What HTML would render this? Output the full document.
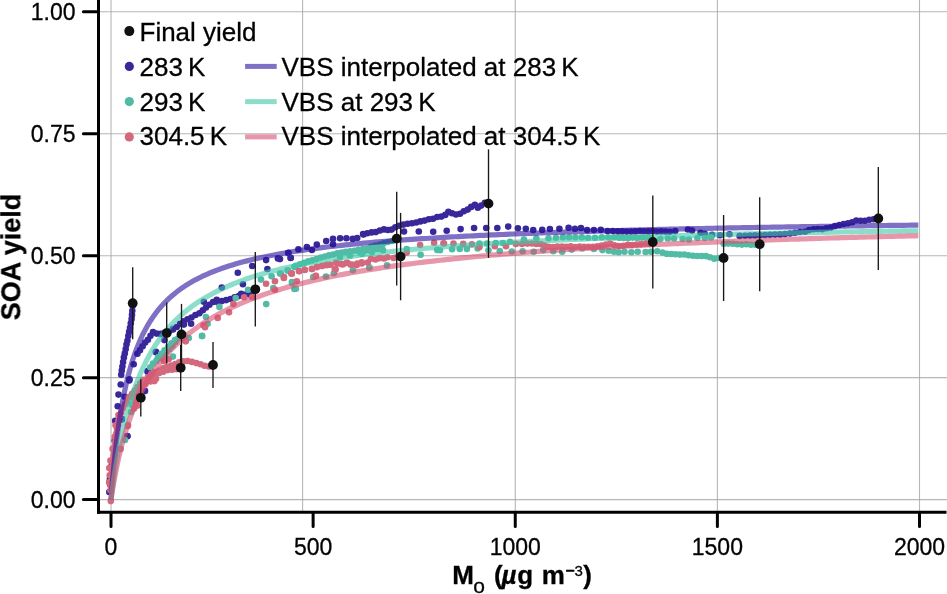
<!DOCTYPE html>
<html><head><meta charset="utf-8"><style>html,body{margin:0;padding:0;background:#fff;}svg{display:block;} text{-webkit-font-smoothing:antialiased;}</style></head>
<body><svg width="947" height="594" viewBox="0 0 947 594">
<rect width="947" height="594" fill="#fff"/>
<g opacity="0.999">
<line x1="111.0" y1="0" x2="111.0" y2="511" stroke="#a7a7a7" stroke-opacity="0.82" stroke-width="1.1"/>
<line x1="302.6" y1="0" x2="302.6" y2="511" stroke="#a7a7a7" stroke-opacity="0.82" stroke-width="1.1"/>
<line x1="515.3" y1="0" x2="515.3" y2="511" stroke="#a7a7a7" stroke-opacity="0.82" stroke-width="1.1"/>
<line x1="717.4" y1="0" x2="717.4" y2="511" stroke="#a7a7a7" stroke-opacity="0.82" stroke-width="1.1"/>
<line x1="919.5" y1="0" x2="919.5" y2="511" stroke="#a7a7a7" stroke-opacity="0.82" stroke-width="1.1"/>
<line x1="99" y1="499.60" x2="947" y2="499.60" stroke="#a7a7a7" stroke-opacity="0.82" stroke-width="1.1"/>
<line x1="99" y1="377.65" x2="947" y2="377.65" stroke="#a7a7a7" stroke-opacity="0.82" stroke-width="1.1"/>
<line x1="99" y1="255.70" x2="947" y2="255.70" stroke="#a7a7a7" stroke-opacity="0.82" stroke-width="1.1"/>
<line x1="99" y1="133.75" x2="947" y2="133.75" stroke="#a7a7a7" stroke-opacity="0.82" stroke-width="1.1"/>
<line x1="99" y1="11.80" x2="947" y2="11.80" stroke="#a7a7a7" stroke-opacity="0.82" stroke-width="1.1"/>
<line x1="98.5" y1="0" x2="98.5" y2="513.7" stroke="#000" stroke-width="3"/>
<line x1="97" y1="512.2" x2="946.5" y2="512.2" stroke="#000" stroke-width="3"/>
<line x1="83.4" y1="499.60" x2="98" y2="499.60" stroke="#000" stroke-width="3" stroke-linecap="round"/>
<text x="75.5" y="507.80" text-anchor="end" font-size="23" font-family="Liberation Sans, sans-serif" stroke="#000" stroke-width="0.3">0.00</text>
<line x1="83.4" y1="377.65" x2="98" y2="377.65" stroke="#000" stroke-width="3" stroke-linecap="round"/>
<text x="75.5" y="385.85" text-anchor="end" font-size="23" font-family="Liberation Sans, sans-serif" stroke="#000" stroke-width="0.3">0.25</text>
<line x1="83.4" y1="255.70" x2="98" y2="255.70" stroke="#000" stroke-width="3" stroke-linecap="round"/>
<text x="75.5" y="263.90" text-anchor="end" font-size="23" font-family="Liberation Sans, sans-serif" stroke="#000" stroke-width="0.3">0.50</text>
<line x1="83.4" y1="133.75" x2="98" y2="133.75" stroke="#000" stroke-width="3" stroke-linecap="round"/>
<text x="75.5" y="141.95" text-anchor="end" font-size="23" font-family="Liberation Sans, sans-serif" stroke="#000" stroke-width="0.3">0.75</text>
<line x1="83.4" y1="11.80" x2="98" y2="11.80" stroke="#000" stroke-width="3" stroke-linecap="round"/>
<text x="75.5" y="20.00" text-anchor="end" font-size="23" font-family="Liberation Sans, sans-serif" stroke="#000" stroke-width="0.3">1.00</text>
<line x1="111.00" y1="513" x2="111.00" y2="526.6" stroke="#000" stroke-width="3" stroke-linecap="round"/>
<text x="111.00" y="554.7" text-anchor="middle" font-size="23" font-family="Liberation Sans, sans-serif" stroke="#000" stroke-width="0.3">0</text>
<line x1="313.12" y1="513" x2="313.12" y2="526.6" stroke="#000" stroke-width="3" stroke-linecap="round"/>
<text x="313.12" y="554.7" text-anchor="middle" font-size="23" font-family="Liberation Sans, sans-serif" stroke="#000" stroke-width="0.3">500</text>
<line x1="515.25" y1="513" x2="515.25" y2="526.6" stroke="#000" stroke-width="3" stroke-linecap="round"/>
<text x="515.25" y="554.7" text-anchor="middle" font-size="23" font-family="Liberation Sans, sans-serif" stroke="#000" stroke-width="0.3">1000</text>
<line x1="717.38" y1="513" x2="717.38" y2="526.6" stroke="#000" stroke-width="3" stroke-linecap="round"/>
<text x="717.38" y="554.7" text-anchor="middle" font-size="23" font-family="Liberation Sans, sans-serif" stroke="#000" stroke-width="0.3">1500</text>
<line x1="919.50" y1="513" x2="919.50" y2="526.6" stroke="#000" stroke-width="3" stroke-linecap="round"/>
<text x="919.50" y="554.7" text-anchor="middle" font-size="23" font-family="Liberation Sans, sans-serif" stroke="#000" stroke-width="0.3">2000</text>
<text transform="translate(20.3,257) rotate(-90)" text-anchor="middle" font-size="27" font-weight="bold" font-family="Liberation Sans, sans-serif" stroke="#000" stroke-width="0.3">SOA yield</text>
<text x="452.3" y="584" font-size="26" font-weight="bold" font-style="normal" font-family="Liberation Sans, sans-serif" stroke="#000" stroke-width="0.3">M</text>
<text x="473.3" y="592.8" font-size="21" font-weight="normal" font-style="normal" font-family="Liberation Sans, sans-serif" stroke="#000" stroke-width="0.3">o</text>
<text x="494" y="584" font-size="26" font-weight="bold" font-style="normal" font-family="Liberation Sans, sans-serif" stroke="#000" stroke-width="0.3">(</text>
<text x="501.5" y="584" font-size="26" font-weight="bold" font-style="italic" font-family="Liberation Sans, sans-serif" stroke="#000" stroke-width="0.3">µ</text>
<text x="517.3" y="584" font-size="26" font-weight="bold" font-style="normal" font-family="Liberation Sans, sans-serif" stroke="#000" stroke-width="0.3">g</text>
<text x="541.8" y="584" font-size="26" font-weight="bold" font-style="normal" font-family="Liberation Sans, sans-serif" stroke="#000" stroke-width="0.3">m</text>
<text x="565.3" y="575.6" font-size="16" font-weight="bold" font-style="normal" font-family="Liberation Sans, sans-serif" stroke="#000" stroke-width="0.3">−</text>
<text x="574.6" y="576" font-size="15" font-weight="normal" font-style="normal" font-family="Liberation Sans, sans-serif" stroke="#000" stroke-width="0.3">3</text>
<text x="583.3" y="584" font-size="26" font-weight="bold" font-style="normal" font-family="Liberation Sans, sans-serif" stroke="#000" stroke-width="0.3">)</text>
<circle cx="121.2" cy="374.7" r="3.3" fill="#39289a"/><circle cx="121.8" cy="370.5" r="3.3" fill="#39289a"/><circle cx="122.4" cy="366.5" r="3.3" fill="#39289a"/><circle cx="123.1" cy="362.1" r="3.3" fill="#39289a"/><circle cx="123.9" cy="357.4" r="3.3" fill="#39289a"/><circle cx="124.8" cy="353.4" r="3.3" fill="#39289a"/><circle cx="125.7" cy="349.1" r="3.3" fill="#39289a"/><circle cx="126.5" cy="344.6" r="3.3" fill="#39289a"/><circle cx="127.4" cy="340.7" r="3.3" fill="#39289a"/><circle cx="128.3" cy="336.0" r="3.3" fill="#39289a"/><circle cx="129.1" cy="331.9" r="3.3" fill="#39289a"/><circle cx="130.0" cy="327.7" r="3.3" fill="#39289a"/><circle cx="130.8" cy="323.3" r="3.3" fill="#39289a"/><circle cx="131.6" cy="319.1" r="3.3" fill="#39289a"/><circle cx="132.0" cy="314.9" r="3.3" fill="#39289a"/><circle cx="132.3" cy="310.7" r="3.3" fill="#39289a"/><circle cx="132.7" cy="305.8" r="3.3" fill="#39289a"/><circle cx="137.4" cy="353.8" r="3.3" fill="#39289a"/><circle cx="140.0" cy="350.2" r="3.3" fill="#39289a"/><circle cx="142.6" cy="346.3" r="3.3" fill="#39289a"/><circle cx="145.2" cy="342.6" r="3.3" fill="#39289a"/><circle cx="147.9" cy="339.7" r="3.3" fill="#39289a"/><circle cx="150.5" cy="335.7" r="3.3" fill="#39289a"/><circle cx="153.0" cy="332.1" r="3.3" fill="#39289a"/><circle cx="156.6" cy="333.6" r="3.3" fill="#39289a"/><circle cx="160.6" cy="333.9" r="3.3" fill="#39289a"/><circle cx="164.8" cy="332.6" r="3.3" fill="#39289a"/><circle cx="169.0" cy="331.2" r="3.3" fill="#39289a"/><circle cx="173.0" cy="328.9" r="3.3" fill="#39289a"/><circle cx="176.7" cy="327.0" r="3.3" fill="#39289a"/><circle cx="180.1" cy="323.9" r="3.3" fill="#39289a"/><circle cx="183.7" cy="321.2" r="3.3" fill="#39289a"/><circle cx="187.5" cy="319.2" r="3.3" fill="#39289a"/><circle cx="191.5" cy="317.5" r="3.3" fill="#39289a"/><circle cx="195.4" cy="315.0" r="3.3" fill="#39289a"/><circle cx="199.4" cy="313.2" r="3.3" fill="#39289a"/><circle cx="202.8" cy="310.3" r="3.3" fill="#39289a"/><circle cx="206.0" cy="307.5" r="3.3" fill="#39289a"/><circle cx="209.4" cy="304.8" r="3.3" fill="#39289a"/><circle cx="213.1" cy="302.0" r="3.3" fill="#39289a"/><circle cx="217.5" cy="301.9" r="3.3" fill="#39289a"/><circle cx="221.9" cy="301.1" r="3.3" fill="#39289a"/><circle cx="226.2" cy="300.1" r="3.3" fill="#39289a"/><circle cx="230.5" cy="299.0" r="3.3" fill="#39289a"/><circle cx="234.6" cy="297.2" r="3.3" fill="#39289a"/><circle cx="238.8" cy="296.1" r="3.3" fill="#39289a"/><circle cx="243.2" cy="295.5" r="3.3" fill="#39289a"/><circle cx="247.4" cy="293.4" r="3.3" fill="#39289a"/><circle cx="251.5" cy="292.3" r="3.3" fill="#39289a"/><circle cx="363.1" cy="234.1" r="3.3" fill="#39289a"/><circle cx="367.3" cy="233.3" r="3.3" fill="#39289a"/><circle cx="371.6" cy="232.4" r="3.3" fill="#39289a"/><circle cx="375.8" cy="232.1" r="3.3" fill="#39289a"/><circle cx="379.9" cy="230.5" r="3.3" fill="#39289a"/><circle cx="384.0" cy="229.4" r="3.3" fill="#39289a"/><circle cx="387.9" cy="230.0" r="3.3" fill="#39289a"/><circle cx="391.6" cy="229.6" r="3.3" fill="#39289a"/><circle cx="395.3" cy="227.2" r="3.3" fill="#39289a"/><circle cx="399.3" cy="225.8" r="3.3" fill="#39289a"/><circle cx="403.5" cy="224.6" r="3.3" fill="#39289a"/><circle cx="407.7" cy="223.7" r="3.3" fill="#39289a"/><circle cx="412.0" cy="223.3" r="3.3" fill="#39289a"/><circle cx="416.2" cy="222.5" r="3.3" fill="#39289a"/><circle cx="420.4" cy="221.4" r="3.3" fill="#39289a"/><circle cx="424.6" cy="220.6" r="3.3" fill="#39289a"/><circle cx="428.8" cy="219.3" r="3.3" fill="#39289a"/><circle cx="433.0" cy="218.8" r="3.3" fill="#39289a"/><circle cx="437.2" cy="217.0" r="3.3" fill="#39289a"/><circle cx="441.4" cy="216.6" r="3.3" fill="#39289a"/><circle cx="445.3" cy="214.9" r="3.3" fill="#39289a"/><circle cx="448.4" cy="211.9" r="3.3" fill="#39289a"/><circle cx="452.0" cy="213.3" r="3.3" fill="#39289a"/><circle cx="456.0" cy="214.5" r="3.3" fill="#39289a"/><circle cx="460.0" cy="213.7" r="3.3" fill="#39289a"/><circle cx="463.8" cy="211.2" r="3.3" fill="#39289a"/><circle cx="467.7" cy="209.6" r="3.3" fill="#39289a"/><circle cx="471.2" cy="206.9" r="3.3" fill="#39289a"/><circle cx="474.9" cy="204.8" r="3.3" fill="#39289a"/><circle cx="477.8" cy="207.8" r="3.3" fill="#39289a"/><circle cx="481.2" cy="205.6" r="3.3" fill="#39289a"/><circle cx="484.9" cy="202.8" r="3.3" fill="#39289a"/><circle cx="618.2" cy="231.3" r="3.3" fill="#39289a"/><circle cx="622.5" cy="231.4" r="3.3" fill="#39289a"/><circle cx="626.8" cy="231.6" r="3.3" fill="#39289a"/><circle cx="631.1" cy="231.6" r="3.3" fill="#39289a"/><circle cx="635.4" cy="231.4" r="3.3" fill="#39289a"/><circle cx="639.7" cy="231.0" r="3.3" fill="#39289a"/><circle cx="644.1" cy="231.2" r="3.3" fill="#39289a"/><circle cx="648.4" cy="231.4" r="3.3" fill="#39289a"/><circle cx="652.7" cy="231.0" r="3.3" fill="#39289a"/><circle cx="657.0" cy="231.6" r="3.3" fill="#39289a"/><circle cx="661.3" cy="231.4" r="3.3" fill="#39289a"/><circle cx="665.6" cy="231.6" r="3.3" fill="#39289a"/><circle cx="669.9" cy="231.7" r="3.3" fill="#39289a"/><circle cx="805.0" cy="231.7" r="3.3" fill="#39289a"/><circle cx="809.1" cy="230.1" r="3.3" fill="#39289a"/><circle cx="813.5" cy="229.3" r="3.3" fill="#39289a"/><circle cx="817.8" cy="229.0" r="3.3" fill="#39289a"/><circle cx="822.2" cy="229.3" r="3.3" fill="#39289a"/><circle cx="826.5" cy="228.2" r="3.3" fill="#39289a"/><circle cx="830.9" cy="227.6" r="3.3" fill="#39289a"/><circle cx="835.0" cy="226.1" r="3.3" fill="#39289a"/><circle cx="839.3" cy="225.0" r="3.3" fill="#39289a"/><circle cx="843.6" cy="224.0" r="3.3" fill="#39289a"/><circle cx="848.0" cy="223.2" r="3.3" fill="#39289a"/><circle cx="852.2" cy="222.3" r="3.3" fill="#39289a"/><circle cx="856.3" cy="220.5" r="3.3" fill="#39289a"/><circle cx="860.6" cy="220.8" r="3.3" fill="#39289a"/><circle cx="864.9" cy="220.7" r="3.3" fill="#39289a"/><circle cx="869.3" cy="219.8" r="3.3" fill="#39289a"/><circle cx="873.6" cy="219.3" r="3.3" fill="#39289a"/>
<circle cx="109.3" cy="492" r="3.3" fill="#39289a"/><circle cx="109.9" cy="479" r="3.3" fill="#39289a"/><circle cx="111.8" cy="464.7" r="3.3" fill="#39289a"/><circle cx="114.3" cy="454.8" r="3.3" fill="#39289a"/><circle cx="114.7" cy="440.5" r="3.3" fill="#39289a"/><circle cx="115.2" cy="420.9" r="3.3" fill="#39289a"/><circle cx="117.7" cy="406.3" r="3.3" fill="#39289a"/><circle cx="118.5" cy="394.6" r="3.3" fill="#39289a"/><circle cx="120.7" cy="384.5" r="3.3" fill="#39289a"/><circle cx="121.7" cy="418.9" r="3.3" fill="#39289a"/><circle cx="127.3" cy="436.1" r="3.3" fill="#39289a"/><circle cx="129.3" cy="380.5" r="3.3" fill="#39289a"/><circle cx="112" cy="470" r="3.3" fill="#39289a"/><circle cx="110.5" cy="485" r="3.3" fill="#39289a"/><circle cx="121.9" cy="419.4" r="3.3" fill="#39289a"/><circle cx="127.4" cy="436.3" r="3.3" fill="#39289a"/><circle cx="124.8" cy="396.7" r="3.3" fill="#39289a"/><circle cx="129.5" cy="379.2" r="3.3" fill="#39289a"/><circle cx="133.7" cy="364.2" r="3.3" fill="#39289a"/><circle cx="237.8" cy="272.8" r="3.3" fill="#39289a"/><circle cx="252.2" cy="266" r="3.3" fill="#39289a"/><circle cx="266.1" cy="260.1" r="3.3" fill="#39289a"/><circle cx="277.9" cy="258.4" r="3.3" fill="#39289a"/><circle cx="288.1" cy="253" r="3.3" fill="#39289a"/><circle cx="290.6" cy="258" r="3.3" fill="#39289a"/><circle cx="267.4" cy="269" r="3.3" fill="#39289a"/><circle cx="242.9" cy="284.2" r="3.3" fill="#39289a"/><circle cx="221.8" cy="287.6" r="3.3" fill="#39289a"/><circle cx="216.7" cy="299.8" r="3.3" fill="#39289a"/><circle cx="241.2" cy="293.8" r="3.3" fill="#39289a"/><circle cx="248.7" cy="294.3" r="3.3" fill="#39289a"/><circle cx="280" cy="259.1" r="3.3" fill="#39289a"/><circle cx="288.5" cy="252.8" r="3.3" fill="#39289a"/><circle cx="290.8" cy="257.8" r="3.3" fill="#39289a"/><circle cx="298.4" cy="249.4" r="3.3" fill="#39289a"/><circle cx="306.9" cy="247" r="3.3" fill="#39289a"/><circle cx="311.9" cy="250" r="3.3" fill="#39289a"/><circle cx="316.8" cy="244.6" r="3.3" fill="#39289a"/><circle cx="326.2" cy="241" r="3.3" fill="#39289a"/><circle cx="333" cy="238.9" r="3.3" fill="#39289a"/><circle cx="333" cy="244.3" r="3.3" fill="#39289a"/><circle cx="340.1" cy="238.3" r="3.3" fill="#39289a"/><circle cx="346.4" cy="238.3" r="3.3" fill="#39289a"/><circle cx="352.7" cy="238.9" r="3.3" fill="#39289a"/><circle cx="357.2" cy="238" r="3.3" fill="#39289a"/><circle cx="363.5" cy="234.4" r="3.3" fill="#39289a"/><circle cx="164.4" cy="340.1" r="3.3" fill="#39289a"/><circle cx="172.9" cy="329.5" r="3.3" fill="#39289a"/><circle cx="148" cy="370.9" r="3.3" fill="#39289a"/><circle cx="155.9" cy="351.8" r="3.3" fill="#39289a"/><circle cx="156.1" cy="352.2" r="3.3" fill="#39289a"/><circle cx="191.1" cy="323.8" r="3.3" fill="#39289a"/><circle cx="183.9" cy="324.6" r="3.3" fill="#39289a"/><circle cx="203.8" cy="301.8" r="3.3" fill="#39289a"/><circle cx="147.6" cy="371.8" r="3.3" fill="#39289a"/><circle cx="145" cy="390.9" r="3.3" fill="#39289a"/><circle cx="404" cy="231.5" r="3.3" fill="#39289a"/><circle cx="418.8" cy="231.5" r="3.3" fill="#39289a"/><circle cx="433.2" cy="231.7" r="3.3" fill="#39289a"/><circle cx="446.7" cy="230.7" r="3.3" fill="#39289a"/><circle cx="460.6" cy="229.1" r="3.3" fill="#39289a"/><circle cx="474.1" cy="228" r="3.3" fill="#39289a"/><circle cx="486.2" cy="228" r="3.3" fill="#39289a"/><circle cx="497.3" cy="228" r="3.3" fill="#39289a"/><circle cx="508.2" cy="226.6" r="3.3" fill="#39289a"/><circle cx="517.9" cy="228.2" r="3.3" fill="#39289a"/><circle cx="525.8" cy="228.8" r="3.3" fill="#39289a"/><circle cx="533.2" cy="230.1" r="3.3" fill="#39289a"/><circle cx="542.2" cy="229.9" r="3.3" fill="#39289a"/><circle cx="549.9" cy="229" r="3.3" fill="#39289a"/><circle cx="559.4" cy="228.8" r="3.3" fill="#39289a"/><circle cx="568.6" cy="227.7" r="3.3" fill="#39289a"/><circle cx="574.9" cy="228.8" r="3.3" fill="#39289a"/><circle cx="581" cy="228" r="3.3" fill="#39289a"/><circle cx="587.1" cy="230.1" r="3.3" fill="#39289a"/><circle cx="593.9" cy="230.1" r="3.3" fill="#39289a"/><circle cx="600.8" cy="229.9" r="3.3" fill="#39289a"/><circle cx="607.6" cy="231.1" r="3.3" fill="#39289a"/><circle cx="612.9" cy="231.1" r="3.3" fill="#39289a"/><circle cx="618.2" cy="231.6" r="3.3" fill="#39289a"/><circle cx="675.2" cy="231.1" r="3.3" fill="#39289a"/><circle cx="687.9" cy="229.5" r="3.3" fill="#39289a"/><circle cx="692.1" cy="230.6" r="3.3" fill="#39289a"/><circle cx="700.5" cy="232.7" r="3.3" fill="#39289a"/><circle cx="704.8" cy="233.8" r="3.3" fill="#39289a"/><circle cx="712.1" cy="234.8" r="3.3" fill="#39289a"/><circle cx="720" cy="235.3" r="3.3" fill="#39289a"/><circle cx="729.5" cy="234.3" r="3.3" fill="#39289a"/><circle cx="739.6" cy="235.9" r="3.3" fill="#39289a"/><circle cx="745" cy="235.8" r="3.3" fill="#39289a"/><circle cx="750" cy="235.6" r="3.3" fill="#39289a"/><circle cx="755" cy="235.4" r="3.3" fill="#39289a"/><circle cx="760" cy="235.2" r="3.3" fill="#39289a"/><circle cx="765" cy="235" r="3.3" fill="#39289a"/><circle cx="770" cy="234.8" r="3.3" fill="#39289a"/><circle cx="775" cy="234.6" r="3.3" fill="#39289a"/><circle cx="780" cy="234.4" r="3.3" fill="#39289a"/><circle cx="785" cy="234" r="3.3" fill="#39289a"/><circle cx="790" cy="233.5" r="3.3" fill="#39289a"/><circle cx="795" cy="232.8" r="3.3" fill="#39289a"/><circle cx="800" cy="232" r="3.3" fill="#39289a"/>
<circle cx="158.0" cy="357.4" r="3.3" fill="#52bba6"/><circle cx="161.2" cy="353.7" r="3.3" fill="#52bba6"/><circle cx="164.6" cy="350.2" r="3.3" fill="#52bba6"/><circle cx="168.1" cy="346.9" r="3.3" fill="#52bba6"/><circle cx="171.5" cy="343.2" r="3.3" fill="#52bba6"/><circle cx="175.0" cy="340.0" r="3.3" fill="#52bba6"/><circle cx="150.3" cy="367.3" r="3.3" fill="#52bba6"/><circle cx="153.0" cy="363.6" r="3.3" fill="#52bba6"/><circle cx="156.4" cy="360.9" r="3.3" fill="#52bba6"/><circle cx="159.9" cy="358.3" r="3.3" fill="#52bba6"/><circle cx="163.2" cy="355.2" r="3.3" fill="#52bba6"/><circle cx="166.3" cy="352.0" r="3.3" fill="#52bba6"/><circle cx="169.4" cy="348.9" r="3.3" fill="#52bba6"/><circle cx="172.5" cy="345.7" r="3.3" fill="#52bba6"/><circle cx="175.4" cy="341.9" r="3.3" fill="#52bba6"/><circle cx="178.0" cy="338.5" r="3.3" fill="#52bba6"/><circle cx="296.0" cy="265.9" r="3.3" fill="#52bba6"/><circle cx="300.0" cy="264.3" r="3.3" fill="#52bba6"/><circle cx="304.1" cy="262.9" r="3.3" fill="#52bba6"/><circle cx="308.2" cy="261.4" r="3.3" fill="#52bba6"/><circle cx="312.3" cy="260.4" r="3.3" fill="#52bba6"/><circle cx="316.5" cy="259.1" r="3.3" fill="#52bba6"/><circle cx="320.6" cy="257.5" r="3.3" fill="#52bba6"/><circle cx="324.7" cy="256.5" r="3.3" fill="#52bba6"/><circle cx="328.9" cy="255.4" r="3.3" fill="#52bba6"/><circle cx="333.1" cy="254.6" r="3.3" fill="#52bba6"/><circle cx="337.3" cy="253.2" r="3.3" fill="#52bba6"/><circle cx="341.6" cy="252.5" r="3.3" fill="#52bba6"/><circle cx="345.8" cy="251.9" r="3.3" fill="#52bba6"/><circle cx="350.1" cy="251.2" r="3.3" fill="#52bba6"/><circle cx="354.4" cy="250.7" r="3.3" fill="#52bba6"/><circle cx="358.6" cy="249.8" r="3.3" fill="#52bba6"/><circle cx="362.9" cy="249.1" r="3.3" fill="#52bba6"/><circle cx="367.1" cy="248.7" r="3.3" fill="#52bba6"/><circle cx="371.3" cy="246.9" r="3.3" fill="#52bba6"/><circle cx="375.4" cy="245.6" r="3.3" fill="#52bba6"/><circle cx="379.6" cy="244.5" r="3.3" fill="#52bba6"/><circle cx="383.7" cy="243.3" r="3.3" fill="#52bba6"/><circle cx="387.8" cy="242.0" r="3.3" fill="#52bba6"/><circle cx="392.0" cy="241.0" r="3.3" fill="#52bba6"/><circle cx="360.0" cy="252.3" r="3.3" fill="#52bba6"/><circle cx="364.4" cy="250.9" r="3.3" fill="#52bba6"/><circle cx="368.8" cy="250.2" r="3.3" fill="#52bba6"/><circle cx="373.2" cy="249.6" r="3.3" fill="#52bba6"/><circle cx="377.6" cy="249.0" r="3.3" fill="#52bba6"/><circle cx="382.0" cy="248.3" r="3.3" fill="#52bba6"/><circle cx="619.3" cy="237.6" r="3.3" fill="#52bba6"/><circle cx="623.8" cy="237.9" r="3.3" fill="#52bba6"/><circle cx="628.3" cy="238.1" r="3.3" fill="#52bba6"/><circle cx="632.8" cy="237.6" r="3.3" fill="#52bba6"/><circle cx="637.4" cy="237.9" r="3.3" fill="#52bba6"/><circle cx="641.9" cy="237.6" r="3.3" fill="#52bba6"/><circle cx="646.4" cy="237.9" r="3.3" fill="#52bba6"/><circle cx="650.9" cy="238.0" r="3.3" fill="#52bba6"/><circle cx="723.7" cy="243.8" r="3.3" fill="#52bba6"/><circle cx="728.2" cy="243.6" r="3.3" fill="#52bba6"/><circle cx="732.8" cy="243.8" r="3.3" fill="#52bba6"/><circle cx="737.3" cy="244.2" r="3.3" fill="#52bba6"/><circle cx="741.8" cy="244.6" r="3.3" fill="#52bba6"/><circle cx="746.3" cy="244.3" r="3.3" fill="#52bba6"/><circle cx="750.9" cy="244.8" r="3.3" fill="#52bba6"/><circle cx="755.4" cy="244.7" r="3.3" fill="#52bba6"/><circle cx="662.5" cy="252.6" r="3.3" fill="#52bba6"/><circle cx="666.8" cy="253.8" r="3.3" fill="#52bba6"/><circle cx="671.2" cy="254.0" r="3.3" fill="#52bba6"/><circle cx="675.5" cy="254.3" r="3.3" fill="#52bba6"/><circle cx="679.9" cy="254.6" r="3.3" fill="#52bba6"/><circle cx="684.3" cy="254.5" r="3.3" fill="#52bba6"/><circle cx="688.6" cy="255.3" r="3.3" fill="#52bba6"/><circle cx="693.0" cy="255.7" r="3.3" fill="#52bba6"/><circle cx="697.3" cy="256.0" r="3.3" fill="#52bba6"/><circle cx="701.7" cy="256.0" r="3.3" fill="#52bba6"/><circle cx="705.9" cy="256.1" r="3.3" fill="#52bba6"/><circle cx="710.0" cy="257.3" r="3.3" fill="#52bba6"/><circle cx="714.3" cy="258.7" r="3.3" fill="#52bba6"/><circle cx="718.6" cy="258.0" r="3.3" fill="#52bba6"/><circle cx="723.0" cy="257.9" r="3.3" fill="#52bba6"/>
<circle cx="369.4" cy="267.3" r="3.3" fill="#52bba6"/><circle cx="387" cy="265.4" r="3.3" fill="#52bba6"/><circle cx="379" cy="258.3" r="3.3" fill="#52bba6"/><circle cx="266.2" cy="304.1" r="3.3" fill="#52bba6"/><circle cx="340" cy="257" r="3.3" fill="#52bba6"/><circle cx="350" cy="255.5" r="3.3" fill="#52bba6"/><circle cx="362" cy="253.8" r="3.3" fill="#52bba6"/><circle cx="372" cy="252" r="3.3" fill="#52bba6"/><circle cx="383" cy="250.2" r="3.3" fill="#52bba6"/><circle cx="128" cy="425" r="3.3" fill="#52bba6"/><circle cx="131" cy="412" r="3.3" fill="#52bba6"/><circle cx="134" cy="400" r="3.3" fill="#52bba6"/><circle cx="125" cy="440" r="3.3" fill="#52bba6"/><circle cx="235.7" cy="298.1" r="3.3" fill="#52bba6"/><circle cx="248" cy="289.7" r="3.3" fill="#52bba6"/><circle cx="261" cy="279.6" r="3.3" fill="#52bba6"/><circle cx="271.6" cy="276.2" r="3.3" fill="#52bba6"/><circle cx="280" cy="273.6" r="3.3" fill="#52bba6"/><circle cx="287.6" cy="270.7" r="3.3" fill="#52bba6"/><circle cx="294.4" cy="266.9" r="3.3" fill="#52bba6"/><circle cx="291.9" cy="282.1" r="3.3" fill="#52bba6"/><circle cx="294.4" cy="288.9" r="3.3" fill="#52bba6"/><circle cx="273.3" cy="288" r="3.3" fill="#52bba6"/><circle cx="295.9" cy="288.8" r="3.3" fill="#52bba6"/><circle cx="313.2" cy="277" r="3.3" fill="#52bba6"/><circle cx="325.9" cy="276.5" r="3.3" fill="#52bba6"/><circle cx="333.9" cy="273.2" r="3.3" fill="#52bba6"/><circle cx="352.9" cy="270.2" r="3.3" fill="#52bba6"/><circle cx="369.4" cy="267.7" r="3.3" fill="#52bba6"/><circle cx="292.1" cy="282.9" r="3.3" fill="#52bba6"/><circle cx="131.5" cy="404.8" r="3.3" fill="#52bba6"/><circle cx="287.6" cy="270.3" r="3.3" fill="#52bba6"/><circle cx="280.9" cy="273.5" r="3.3" fill="#52bba6"/><circle cx="205.9" cy="317" r="3.3" fill="#52bba6"/><circle cx="207.6" cy="323.8" r="3.3" fill="#52bba6"/><circle cx="202.1" cy="336" r="3.3" fill="#52bba6"/><circle cx="219.4" cy="306.9" r="3.3" fill="#52bba6"/><circle cx="172.9" cy="356.6" r="3.3" fill="#52bba6"/><circle cx="188.8" cy="338" r="3.3" fill="#52bba6"/><circle cx="202" cy="335.9" r="3.3" fill="#52bba6"/><circle cx="406.7" cy="249" r="3.3" fill="#52bba6"/><circle cx="420.6" cy="254.8" r="3.3" fill="#52bba6"/><circle cx="437.2" cy="249.9" r="3.3" fill="#52bba6"/><circle cx="479.5" cy="243.5" r="3.3" fill="#52bba6"/><circle cx="487.1" cy="243.5" r="3.3" fill="#52bba6"/><circle cx="495.7" cy="243" r="3.3" fill="#52bba6"/><circle cx="502.8" cy="243" r="3.3" fill="#52bba6"/><circle cx="510" cy="241.7" r="3.3" fill="#52bba6"/><circle cx="523.9" cy="239.5" r="3.3" fill="#52bba6"/><circle cx="536.4" cy="238.3" r="3.3" fill="#52bba6"/><circle cx="548.5" cy="238.3" r="3.3" fill="#52bba6"/><circle cx="555.9" cy="237.7" r="3.3" fill="#52bba6"/><circle cx="562.8" cy="237.2" r="3.3" fill="#52bba6"/><circle cx="569.1" cy="237.2" r="3.3" fill="#52bba6"/><circle cx="575.4" cy="237.2" r="3.3" fill="#52bba6"/><circle cx="581.8" cy="237.2" r="3.3" fill="#52bba6"/><circle cx="588.1" cy="237.7" r="3.3" fill="#52bba6"/><circle cx="595" cy="237.7" r="3.3" fill="#52bba6"/><circle cx="601.8" cy="237.2" r="3.3" fill="#52bba6"/><circle cx="608.2" cy="237.2" r="3.3" fill="#52bba6"/><circle cx="614" cy="237.2" r="3.3" fill="#52bba6"/><circle cx="619.3" cy="237.7" r="3.3" fill="#52bba6"/><circle cx="660.4" cy="239" r="3.3" fill="#52bba6"/><circle cx="667.8" cy="238.5" r="3.3" fill="#52bba6"/><circle cx="674.1" cy="238.5" r="3.3" fill="#52bba6"/><circle cx="682.6" cy="239" r="3.3" fill="#52bba6"/><circle cx="688.9" cy="239.6" r="3.3" fill="#52bba6"/><circle cx="697.4" cy="238" r="3.3" fill="#52bba6"/><circle cx="704.8" cy="238" r="3.3" fill="#52bba6"/><circle cx="711.1" cy="237.5" r="3.3" fill="#52bba6"/><circle cx="440" cy="250.2" r="3.3" fill="#52bba6"/><circle cx="452.1" cy="249.3" r="3.3" fill="#52bba6"/><circle cx="459.7" cy="248.9" r="3.3" fill="#52bba6"/><circle cx="466.9" cy="248.9" r="3.3" fill="#52bba6"/><circle cx="477.7" cy="248.4" r="3.3" fill="#52bba6"/><circle cx="488.5" cy="250.2" r="3.3" fill="#52bba6"/><circle cx="499.7" cy="251.1" r="3.3" fill="#52bba6"/><circle cx="511.8" cy="251.5" r="3.3" fill="#52bba6"/><circle cx="522.6" cy="251.2" r="3.3" fill="#52bba6"/><circle cx="533.7" cy="251.7" r="3.3" fill="#52bba6"/><circle cx="543.2" cy="250.1" r="3.3" fill="#52bba6"/><circle cx="553.3" cy="251.2" r="3.3" fill="#52bba6"/><circle cx="562.2" cy="251.7" r="3.3" fill="#52bba6"/><circle cx="571.7" cy="249.6" r="3.3" fill="#52bba6"/><circle cx="582.3" cy="248.5" r="3.3" fill="#52bba6"/><circle cx="593.9" cy="248.9" r="3.3" fill="#52bba6"/><circle cx="602.4" cy="250.1" r="3.3" fill="#52bba6"/><circle cx="608.7" cy="250.7" r="3.3" fill="#52bba6"/><circle cx="614" cy="251.7" r="3.3" fill="#52bba6"/><circle cx="618.7" cy="252.2" r="3.3" fill="#52bba6"/><circle cx="624.5" cy="251.7" r="3.3" fill="#52bba6"/><circle cx="631.4" cy="252.2" r="3.3" fill="#52bba6"/><circle cx="637.7" cy="251.7" r="3.3" fill="#52bba6"/><circle cx="645.6" cy="252" r="3.3" fill="#52bba6"/><circle cx="650.9" cy="251.7" r="3.3" fill="#52bba6"/><circle cx="657.2" cy="251.2" r="3.3" fill="#52bba6"/>
<circle cx="110.5" cy="490.2" r="3.3" fill="#d4687c"/><circle cx="110.8" cy="485.8" r="3.3" fill="#d4687c"/><circle cx="111.2" cy="481.3" r="3.3" fill="#d4687c"/><circle cx="111.5" cy="477.1" r="3.3" fill="#d4687c"/><circle cx="111.8" cy="472.9" r="3.3" fill="#d4687c"/><circle cx="112.2" cy="468.4" r="3.3" fill="#d4687c"/><circle cx="112.7" cy="463.9" r="3.3" fill="#d4687c"/><circle cx="113.2" cy="459.6" r="3.3" fill="#d4687c"/><circle cx="113.6" cy="455.4" r="3.3" fill="#d4687c"/><circle cx="114.1" cy="450.8" r="3.3" fill="#d4687c"/><circle cx="114.7" cy="446.7" r="3.3" fill="#d4687c"/><circle cx="115.2" cy="442.3" r="3.3" fill="#d4687c"/><circle cx="115.8" cy="438.1" r="3.3" fill="#d4687c"/><circle cx="116.3" cy="433.6" r="3.3" fill="#d4687c"/><circle cx="117.0" cy="429.0" r="3.3" fill="#d4687c"/><circle cx="117.8" cy="425.0" r="3.3" fill="#d4687c"/><circle cx="118.5" cy="420.9" r="3.3" fill="#d4687c"/><circle cx="119.6" cy="416.6" r="3.3" fill="#d4687c"/><circle cx="121.2" cy="412.5" r="3.3" fill="#d4687c"/><circle cx="122.8" cy="408.3" r="3.3" fill="#d4687c"/><circle cx="125.0" cy="404.5" r="3.3" fill="#d4687c"/><circle cx="127.1" cy="401.0" r="3.3" fill="#d4687c"/><circle cx="129.6" cy="396.9" r="3.3" fill="#d4687c"/><circle cx="132.1" cy="393.9" r="3.3" fill="#d4687c"/><circle cx="134.8" cy="390.5" r="3.3" fill="#d4687c"/><circle cx="137.5" cy="387.1" r="3.3" fill="#d4687c"/><circle cx="140.3" cy="383.2" r="3.3" fill="#d4687c"/><circle cx="143.0" cy="379.7" r="3.3" fill="#d4687c"/><circle cx="135.9" cy="403.6" r="3.3" fill="#d4687c"/><circle cx="137.1" cy="398.9" r="3.3" fill="#d4687c"/><circle cx="138.3" cy="394.5" r="3.3" fill="#d4687c"/><circle cx="139.7" cy="390.4" r="3.3" fill="#d4687c"/><circle cx="141.7" cy="386.5" r="3.3" fill="#d4687c"/><circle cx="143.9" cy="382.4" r="3.3" fill="#d4687c"/><circle cx="147.7" cy="380.2" r="3.3" fill="#d4687c"/><circle cx="151.4" cy="377.8" r="3.3" fill="#d4687c"/><circle cx="155.2" cy="375.5" r="3.3" fill="#d4687c"/><circle cx="159.2" cy="372.9" r="3.3" fill="#d4687c"/><circle cx="163.3" cy="371.8" r="3.3" fill="#d4687c"/><circle cx="167.5" cy="370.1" r="3.3" fill="#d4687c"/><circle cx="172.0" cy="369.7" r="3.3" fill="#d4687c"/><circle cx="176.4" cy="369.2" r="3.3" fill="#d4687c"/><circle cx="180.3" cy="366.8" r="3.3" fill="#d4687c"/><circle cx="136.5" cy="400.3" r="3.3" fill="#d4687c"/><circle cx="137.9" cy="395.6" r="3.3" fill="#d4687c"/><circle cx="139.2" cy="391.7" r="3.3" fill="#d4687c"/><circle cx="140.6" cy="387.3" r="3.3" fill="#d4687c"/><circle cx="142.0" cy="383.5" r="3.3" fill="#d4687c"/><circle cx="144.8" cy="380.4" r="3.3" fill="#d4687c"/><circle cx="147.9" cy="377.3" r="3.3" fill="#d4687c"/><circle cx="151.3" cy="374.1" r="3.3" fill="#d4687c"/><circle cx="155.1" cy="372.3" r="3.3" fill="#d4687c"/><circle cx="159.1" cy="370.6" r="3.3" fill="#d4687c"/><circle cx="163.0" cy="368.3" r="3.3" fill="#d4687c"/><circle cx="167.1" cy="366.8" r="3.3" fill="#d4687c"/><circle cx="171.2" cy="365.6" r="3.3" fill="#d4687c"/><circle cx="175.3" cy="364.1" r="3.3" fill="#d4687c"/><circle cx="179.3" cy="362.2" r="3.3" fill="#d4687c"/><circle cx="183.6" cy="361.2" r="3.3" fill="#d4687c"/><circle cx="187.8" cy="361.0" r="3.3" fill="#d4687c"/><circle cx="192.0" cy="361.9" r="3.3" fill="#d4687c"/><circle cx="196.3" cy="363.1" r="3.3" fill="#d4687c"/><circle cx="200.5" cy="364.3" r="3.3" fill="#d4687c"/><circle cx="204.6" cy="365.8" r="3.3" fill="#d4687c"/><circle cx="208.9" cy="366.5" r="3.3" fill="#d4687c"/><circle cx="213.0" cy="364.9" r="3.3" fill="#d4687c"/><circle cx="145.5" cy="384.0" r="3.3" fill="#d4687c"/><circle cx="150.6" cy="381.5" r="3.3" fill="#d4687c"/><circle cx="156.0" cy="378.8" r="3.3" fill="#d4687c"/><circle cx="527.4" cy="243.6" r="3.3" fill="#d4687c"/><circle cx="531.8" cy="243.5" r="3.3" fill="#d4687c"/><circle cx="536.3" cy="244.0" r="3.3" fill="#d4687c"/><circle cx="540.7" cy="244.1" r="3.3" fill="#d4687c"/><circle cx="544.5" cy="245.6" r="3.3" fill="#d4687c"/><circle cx="548.7" cy="246.8" r="3.3" fill="#d4687c"/><circle cx="553.1" cy="247.1" r="3.3" fill="#d4687c"/><circle cx="557.4" cy="246.6" r="3.3" fill="#d4687c"/><circle cx="561.9" cy="246.5" r="3.3" fill="#d4687c"/><circle cx="566.3" cy="246.8" r="3.3" fill="#d4687c"/><circle cx="570.7" cy="246.4" r="3.3" fill="#d4687c"/><circle cx="575.2" cy="247.0" r="3.3" fill="#d4687c"/><circle cx="579.6" cy="246.6" r="3.3" fill="#d4687c"/><circle cx="584.0" cy="246.8" r="3.3" fill="#d4687c"/><circle cx="588.5" cy="246.7" r="3.3" fill="#d4687c"/><circle cx="592.9" cy="246.8" r="3.3" fill="#d4687c"/><circle cx="597.3" cy="246.4" r="3.3" fill="#d4687c"/><circle cx="601.6" cy="245.6" r="3.3" fill="#d4687c"/><circle cx="606.0" cy="244.6" r="3.3" fill="#d4687c"/><circle cx="610.3" cy="243.6" r="3.3" fill="#d4687c"/><circle cx="614.5" cy="245.3" r="3.3" fill="#d4687c"/><circle cx="618.8" cy="246.0" r="3.3" fill="#d4687c"/><circle cx="623.3" cy="245.7" r="3.3" fill="#d4687c"/><circle cx="627.7" cy="244.8" r="3.3" fill="#d4687c"/><circle cx="632.1" cy="245.0" r="3.3" fill="#d4687c"/><circle cx="636.5" cy="244.5" r="3.3" fill="#d4687c"/><circle cx="640.9" cy="244.1" r="3.3" fill="#d4687c"/><circle cx="645.4" cy="243.8" r="3.3" fill="#d4687c"/><circle cx="649.8" cy="244.0" r="3.3" fill="#d4687c"/>
<circle cx="229" cy="312.2" r="3.3" fill="#d4687c"/><circle cx="233.4" cy="304.1" r="3.3" fill="#d4687c"/><circle cx="244.1" cy="297.3" r="3.3" fill="#d4687c"/><circle cx="252.2" cy="297.3" r="3.3" fill="#d4687c"/><circle cx="266.1" cy="283.8" r="3.3" fill="#d4687c"/><circle cx="275" cy="281.3" r="3.3" fill="#d4687c"/><circle cx="283.8" cy="277.9" r="3.3" fill="#d4687c"/><circle cx="291.4" cy="273.6" r="3.3" fill="#d4687c"/><circle cx="275" cy="289.7" r="3.3" fill="#d4687c"/><circle cx="291.7" cy="273.6" r="3.3" fill="#d4687c"/><circle cx="298.9" cy="271" r="3.3" fill="#d4687c"/><circle cx="304.8" cy="269.8" r="3.3" fill="#d4687c"/><circle cx="312" cy="268.9" r="3.3" fill="#d4687c"/><circle cx="317" cy="266.8" r="3.3" fill="#d4687c"/><circle cx="322.1" cy="266" r="3.3" fill="#d4687c"/><circle cx="326.3" cy="265.1" r="3.3" fill="#d4687c"/><circle cx="330.5" cy="264.7" r="3.3" fill="#d4687c"/><circle cx="336" cy="262.6" r="3.3" fill="#d4687c"/><circle cx="341.5" cy="263.9" r="3.3" fill="#d4687c"/><circle cx="346.6" cy="263" r="3.3" fill="#d4687c"/><circle cx="350.8" cy="264.7" r="3.3" fill="#d4687c"/><circle cx="356.7" cy="265.1" r="3.3" fill="#d4687c"/><circle cx="361.8" cy="263.4" r="3.3" fill="#d4687c"/><circle cx="367.7" cy="262.6" r="3.3" fill="#d4687c"/><circle cx="335.6" cy="269.4" r="3.3" fill="#d4687c"/><circle cx="296.8" cy="281.2" r="3.3" fill="#d4687c"/><circle cx="315.8" cy="276.1" r="3.3" fill="#d4687c"/><circle cx="127.8" cy="397.4" r="3.3" fill="#d4687c"/><circle cx="154.4" cy="381.1" r="3.3" fill="#d4687c"/><circle cx="110.5" cy="460.5" r="3.3" fill="#d4687c"/><circle cx="109.3" cy="468" r="3.3" fill="#d4687c"/><circle cx="109.7" cy="475.2" r="3.3" fill="#d4687c"/><circle cx="109.1" cy="482.4" r="3.3" fill="#d4687c"/><circle cx="110.8" cy="501.1" r="3.3" fill="#d4687c"/><circle cx="118.5" cy="415.1" r="3.3" fill="#d4687c"/><circle cx="115.6" cy="425.3" r="3.3" fill="#d4687c"/><circle cx="114.7" cy="436.7" r="3.3" fill="#d4687c"/><circle cx="112.6" cy="448.9" r="3.3" fill="#d4687c"/><circle cx="127.8" cy="426.1" r="3.3" fill="#d4687c"/><circle cx="120.6" cy="448.9" r="3.3" fill="#d4687c"/><circle cx="137.1" cy="405.8" r="3.3" fill="#d4687c"/><circle cx="134.1" cy="408.4" r="3.3" fill="#d4687c"/><circle cx="168.6" cy="359.2" r="3.3" fill="#d4687c"/><circle cx="185.6" cy="341.2" r="3.3" fill="#d4687c"/><circle cx="203.6" cy="325.3" r="3.3" fill="#d4687c"/><circle cx="164.1" cy="361.2" r="3.3" fill="#d4687c"/><circle cx="167.3" cy="359.1" r="3.3" fill="#d4687c"/><circle cx="185.8" cy="341.1" r="3.3" fill="#d4687c"/><circle cx="205" cy="327.2" r="3.3" fill="#d4687c"/><circle cx="217.7" cy="317.9" r="3.3" fill="#d4687c"/><circle cx="284" cy="277" r="3.3" fill="#d4687c"/><circle cx="291.7" cy="273.5" r="3.3" fill="#d4687c"/><circle cx="299.3" cy="271.2" r="3.3" fill="#d4687c"/><circle cx="304.7" cy="269.9" r="3.3" fill="#d4687c"/><circle cx="311.9" cy="269" r="3.3" fill="#d4687c"/><circle cx="316.8" cy="267.2" r="3.3" fill="#d4687c"/><circle cx="322.2" cy="265.8" r="3.3" fill="#d4687c"/><circle cx="327.6" cy="264.9" r="3.3" fill="#d4687c"/><circle cx="334.8" cy="269" r="3.3" fill="#d4687c"/><circle cx="337.5" cy="263.6" r="3.3" fill="#d4687c"/><circle cx="342.8" cy="264.5" r="3.3" fill="#d4687c"/><circle cx="347.3" cy="262.7" r="3.3" fill="#d4687c"/><circle cx="351.8" cy="264.5" r="3.3" fill="#d4687c"/><circle cx="357.2" cy="263.6" r="3.3" fill="#d4687c"/><circle cx="361.7" cy="262.3" r="3.3" fill="#d4687c"/><circle cx="315.9" cy="275.7" r="3.3" fill="#d4687c"/><circle cx="370.9" cy="258.8" r="3.3" fill="#d4687c"/><circle cx="375.5" cy="259.5" r="3.3" fill="#d4687c"/><circle cx="380" cy="258" r="3.3" fill="#d4687c"/><circle cx="384" cy="258.5" r="3.3" fill="#d4687c"/><circle cx="387.6" cy="257.3" r="3.3" fill="#d4687c"/><circle cx="393.6" cy="258" r="3.3" fill="#d4687c"/><circle cx="397" cy="257" r="3.3" fill="#d4687c"/><circle cx="420.1" cy="245" r="3.3" fill="#d4687c"/><circle cx="434.1" cy="242.7" r="3.3" fill="#d4687c"/><circle cx="443.5" cy="243.2" r="3.3" fill="#d4687c"/><circle cx="406.7" cy="252.6" r="3.3" fill="#d4687c"/><circle cx="444" cy="243.5" r="3.3" fill="#d4687c"/><circle cx="453.5" cy="243.5" r="3.3" fill="#d4687c"/><circle cx="463.2" cy="243.9" r="3.3" fill="#d4687c"/><circle cx="471.9" cy="244.4" r="3.3" fill="#d4687c"/><circle cx="479.5" cy="247" r="3.3" fill="#d4687c"/><circle cx="494.8" cy="246.2" r="3.3" fill="#d4687c"/><circle cx="506" cy="246.2" r="3.3" fill="#d4687c"/><circle cx="515.9" cy="243.9" r="3.3" fill="#d4687c"/><circle cx="522.1" cy="243.9" r="3.3" fill="#d4687c"/>
<polyline points="111.00,499.60 111.20,496.93 111.40,494.32 111.61,491.75 111.81,489.24 112.01,486.77 112.21,484.35 112.41,481.98 112.62,479.65 112.82,477.36 113.02,475.11 113.22,472.91 113.43,470.74 113.63,468.61 113.83,466.52 114.03,464.47 114.23,462.45 114.44,460.47 114.64,458.52 114.84,456.60 115.04,454.72 115.24,452.87 115.45,451.04 115.65,449.25 115.85,447.48 116.05,445.75 116.26,444.04 116.46,442.36 116.66,440.70 116.86,439.07 117.06,437.47 117.27,435.89 117.47,434.33 117.67,432.80 117.87,431.29 118.07,429.80 118.28,428.33 118.48,426.89 118.68,425.46 118.88,424.06 119.09,422.67 119.29,421.31 119.90,417.31 120.51,413.47 121.12,409.79 121.73,406.25 122.34,402.85 122.95,399.57 123.56,396.42 124.17,393.38 124.78,390.45 125.38,387.62 125.99,384.89 126.60,382.25 127.21,379.69 127.82,377.23 128.43,374.84 129.04,372.52 129.65,370.28 130.26,368.10 130.87,365.99 131.48,363.95 132.09,361.96 132.70,360.03 133.31,358.15 133.92,356.33 134.53,354.55 135.14,352.83 135.75,351.14 136.36,349.51 136.97,347.91 137.58,346.36 138.19,344.85 138.80,343.37 139.41,341.93 140.02,340.53 140.63,339.15 141.24,337.81 141.85,336.51 142.46,335.23 143.07,333.98 143.68,332.76 144.29,331.57 144.90,330.40 145.51,329.26 146.12,328.14 146.73,327.04 147.34,325.97 147.95,324.92 148.56,323.90 149.17,322.89 149.78,321.90 150.39,320.94 151.00,319.99 151.61,319.06 152.21,318.15 152.82,317.26 153.43,316.38 154.04,315.52 154.65,314.67 155.26,313.84 155.87,313.03 156.48,312.23 157.09,311.44 157.70,310.67 158.31,309.91 158.92,309.17 159.53,308.43 160.14,307.71 160.75,307.00 161.36,306.31 161.97,305.62 162.58,304.95 163.19,304.29 163.80,303.63 164.41,302.99 165.02,302.36 165.63,301.74 166.24,301.13 166.85,300.52 167.46,299.93 168.07,299.34 168.68,298.77 169.29,298.20 169.90,297.64 170.51,297.09 171.12,296.55 171.73,296.01 172.34,295.48 172.95,294.96 173.56,294.45 174.17,293.95 174.78,293.45 175.39,292.95 176.00,292.47 176.61,291.99 177.22,291.52 177.83,291.05 178.44,290.59 179.04,290.14 179.65,289.69 180.26,289.25 180.87,288.81 181.48,288.38 182.09,287.96 182.70,287.54 183.31,287.12 183.92,286.71 184.53,286.31 185.14,285.91 185.75,285.51 186.36,285.13 186.97,284.74 187.58,284.36 188.19,283.98 188.80,283.61 189.41,283.24 190.02,282.88 190.63,282.52 191.24,282.17 191.85,281.82 192.25,281.59 195.90,279.58 199.55,277.71 203.20,275.94 206.85,274.29 210.50,272.72 214.14,271.24 217.79,269.85 221.44,268.52 225.09,267.26 228.74,266.07 232.39,264.93 236.04,263.85 239.68,262.81 243.33,261.82 246.98,260.87 250.63,259.96 254.28,259.09 257.93,258.26 261.57,257.46 265.22,256.69 268.87,255.94 272.52,255.23 276.17,254.54 279.82,253.88 283.46,253.24 287.11,252.62 290.76,252.02 294.41,251.44 298.06,250.88 301.71,250.34 305.35,249.81 309.00,249.30 312.65,248.81 316.30,248.33 319.95,247.86 323.60,247.41 327.25,246.97 330.89,246.54 334.54,246.13 338.19,245.72 341.84,245.33 345.49,244.95 349.14,244.57 352.78,244.21 356.43,243.85 360.08,243.51 363.73,243.17 367.38,242.84 371.03,242.52 374.67,242.21 378.32,241.90 381.97,241.60 385.62,241.31 389.27,241.02 392.92,240.74 396.57,240.47 400.21,240.20 403.86,239.94 407.51,239.68 411.16,239.43 414.81,239.18 418.46,238.94 422.10,238.70 425.75,238.47 429.40,238.24 433.05,238.02 436.70,237.80 440.35,237.59 443.99,237.38 447.64,237.17 451.29,236.97 454.94,236.77 458.59,236.57 462.24,236.38 465.88,236.19 469.53,236.01 473.18,235.83 476.83,235.65 480.48,235.47 484.13,235.30 487.78,235.13 491.42,234.97 495.07,234.80 498.72,234.64 502.37,234.48 506.02,234.32 509.67,234.17 513.31,234.02 516.96,233.87 520.61,233.72 524.26,233.58 527.91,233.44 531.56,233.30 535.20,233.16 538.85,233.02 542.50,232.89 546.15,232.76 549.80,232.63 553.45,232.50 557.09,232.38 560.74,232.25 564.39,232.13 568.04,232.01 571.69,231.89 575.34,231.77 578.99,231.66 582.63,231.54 586.28,231.43 589.93,231.32 593.58,231.21 597.23,231.10 600.88,230.99 604.52,230.89 608.17,230.78 611.82,230.68 615.47,230.58 619.12,230.48 622.77,230.38 626.41,230.28 630.06,230.19 633.71,230.09 637.36,230.00 641.01,229.90 644.66,229.81 648.31,229.72 651.95,229.63 655.60,229.54 659.25,229.46 662.90,229.37 666.55,229.28 670.20,229.20 673.84,229.12 677.49,229.03 681.14,228.95 684.79,228.87 688.44,228.79 692.09,228.71 695.73,228.64 699.38,228.56 703.03,228.48 706.68,228.41 710.33,228.33 713.98,228.26 717.62,228.19 721.27,228.12 724.92,228.04 728.57,227.97 732.22,227.90 735.87,227.83 739.52,227.77 743.16,227.70 746.81,227.63 750.46,227.57 754.11,227.50 757.76,227.43 761.41,227.37 765.05,227.31 768.70,227.24 772.35,227.18 776.00,227.12 779.65,227.06 783.30,227.00 786.94,226.94 790.59,226.88 794.24,226.82 797.89,226.76 801.54,226.70 805.19,226.65 808.84,226.59 812.48,226.53 816.13,226.48 819.78,226.42 823.43,226.37 827.08,226.32 830.73,226.26 834.37,226.21 838.02,226.16 841.67,226.11 845.32,226.05 848.97,226.00 852.62,225.95 856.26,225.90 859.91,225.85 863.56,225.80 867.21,225.75 870.86,225.71 874.51,225.66 878.15,225.61 881.80,225.56 885.45,225.52 889.10,225.47 892.75,225.42 896.40,225.38 900.05,225.33 903.69,225.29 907.34,225.24 910.99,225.20 914.64,225.16 918.29,225.11" fill="none" stroke="#2a10a0" stroke-opacity="0.6" stroke-width="5.2"/>
<polyline points="111.00,499.60 111.20,498.00 111.40,496.41 111.61,494.85 111.81,493.30 112.01,491.77 112.21,490.26 112.41,488.77 112.62,487.29 112.82,485.83 113.02,484.39 113.22,482.96 113.43,481.55 113.63,480.16 113.83,478.78 114.03,477.41 114.23,476.06 114.44,474.73 114.64,473.41 114.84,472.10 115.04,470.81 115.24,469.53 115.45,468.26 115.65,467.01 115.85,465.77 116.05,464.54 116.26,463.33 116.46,462.13 116.66,460.94 116.86,459.76 117.06,458.59 117.27,457.44 117.47,456.30 117.67,455.17 117.87,454.05 118.07,452.94 118.28,451.84 118.48,450.75 118.68,449.68 118.88,448.61 119.09,447.55 119.29,446.51 119.90,443.41 120.51,440.40 121.12,437.47 121.73,434.62 122.34,431.85 122.95,429.15 123.56,426.52 124.17,423.95 124.78,421.46 125.38,419.02 125.99,416.64 126.60,414.32 127.21,412.06 127.82,409.85 128.43,407.69 129.04,405.58 129.65,403.52 130.26,401.51 130.87,399.54 131.48,397.61 132.09,395.73 132.70,393.88 133.31,392.08 133.92,390.31 134.53,388.58 135.14,386.88 135.75,385.22 136.36,383.59 136.97,382.00 137.58,380.43 138.19,378.90 138.80,377.40 139.41,375.92 140.02,374.47 140.63,373.05 141.24,371.66 141.85,370.29 142.46,368.95 143.07,367.63 143.68,366.33 144.29,365.06 144.90,363.81 145.51,362.58 146.12,361.37 146.73,360.18 147.34,359.01 147.95,357.86 148.56,356.73 149.17,355.62 149.78,354.53 150.39,353.46 151.00,352.40 151.61,351.36 152.21,350.33 152.82,349.32 153.43,348.33 154.04,347.35 154.65,346.39 155.26,345.44 155.87,344.51 156.48,343.59 157.09,342.68 157.70,341.79 158.31,340.91 158.92,340.04 159.53,339.18 160.14,338.34 160.75,337.51 161.36,336.69 161.97,335.88 162.58,335.08 163.19,334.30 163.80,333.52 164.41,332.76 165.02,332.00 165.63,331.26 166.24,330.52 166.85,329.80 167.46,329.08 168.07,328.37 168.68,327.68 169.29,326.99 169.90,326.31 170.51,325.64 171.12,324.97 171.73,324.32 172.34,323.67 172.95,323.03 173.56,322.40 174.17,321.78 174.78,321.16 175.39,320.56 176.00,319.96 176.61,319.36 177.22,318.77 177.83,318.19 178.44,317.62 179.04,317.05 179.65,316.49 180.26,315.94 180.87,315.39 181.48,314.85 182.09,314.32 182.70,313.79 183.31,313.26 183.92,312.75 184.53,312.24 185.14,311.73 185.75,311.23 186.36,310.73 186.97,310.24 187.58,309.76 188.19,309.28 188.80,308.80 189.41,308.33 190.02,307.87 190.63,307.41 191.24,306.95 191.85,306.50 192.25,306.21 195.90,303.62 199.55,301.19 203.20,298.89 206.85,296.71 210.50,294.65 214.14,292.70 217.79,290.84 221.44,289.08 225.09,287.40 228.74,285.80 232.39,284.27 236.04,282.81 239.68,281.41 243.33,280.07 246.98,278.79 250.63,277.56 254.28,276.38 257.93,275.24 261.57,274.15 265.22,273.10 268.87,272.09 272.52,271.12 276.17,270.18 279.82,269.27 283.46,268.39 287.11,267.55 290.76,266.73 294.41,265.94 298.06,265.17 301.71,264.43 305.35,263.71 309.00,263.02 312.65,262.34 316.30,261.68 319.95,261.05 323.60,260.43 327.25,259.83 330.89,259.25 334.54,258.68 338.19,258.13 341.84,257.59 345.49,257.07 349.14,256.56 352.78,256.06 356.43,255.58 360.08,255.11 363.73,254.65 367.38,254.20 371.03,253.76 374.67,253.34 378.32,252.92 381.97,252.51 385.62,252.11 389.27,251.73 392.92,251.35 396.57,250.97 400.21,250.61 403.86,250.26 407.51,249.91 411.16,249.57 414.81,249.24 418.46,248.91 422.10,248.59 425.75,248.28 429.40,247.97 433.05,247.67 436.70,247.38 440.35,247.09 443.99,246.81 447.64,246.53 451.29,246.26 454.94,245.99 458.59,245.73 462.24,245.47 465.88,245.22 469.53,244.97 473.18,244.73 476.83,244.49 480.48,244.26 484.13,244.03 487.78,243.80 491.42,243.58 495.07,243.36 498.72,243.14 502.37,242.93 506.02,242.73 509.67,242.52 513.31,242.32 516.96,242.12 520.61,241.93 524.26,241.74 527.91,241.55 531.56,241.36 535.20,241.18 538.85,241.00 542.50,240.82 546.15,240.65 549.80,240.48 553.45,240.31 557.09,240.14 560.74,239.98 564.39,239.82 568.04,239.66 571.69,239.50 575.34,239.35 578.99,239.20 582.63,239.05 586.28,238.90 589.93,238.75 593.58,238.61 597.23,238.47 600.88,238.33 604.52,238.19 608.17,238.05 611.82,237.92 615.47,237.78 619.12,237.65 622.77,237.52 626.41,237.40 630.06,237.27 633.71,237.15 637.36,237.03 641.01,236.90 644.66,236.78 648.31,236.67 651.95,236.55 655.60,236.44 659.25,236.32 662.90,236.21 666.55,236.10 670.20,235.99 673.84,235.88 677.49,235.77 681.14,235.67 684.79,235.56 688.44,235.46 692.09,235.36 695.73,235.26 699.38,235.16 703.03,235.06 706.68,234.96 710.33,234.87 713.98,234.77 717.62,234.68 721.27,234.59 724.92,234.49 728.57,234.40 732.22,234.31 735.87,234.22 739.52,234.14 743.16,234.05 746.81,233.96 750.46,233.88 754.11,233.79 757.76,233.71 761.41,233.63 765.05,233.55 768.70,233.47 772.35,233.39 776.00,233.31 779.65,233.23 783.30,233.15 786.94,233.07 790.59,233.00 794.24,232.92 797.89,232.85 801.54,232.77 805.19,232.70 808.84,232.63 812.48,232.56 816.13,232.49 819.78,232.42 823.43,232.35 827.08,232.28 830.73,232.21 834.37,232.14 838.02,232.08 841.67,232.01 845.32,231.94 848.97,231.88 852.62,231.82 856.26,231.75 859.91,231.69 863.56,231.63 867.21,231.56 870.86,231.50 874.51,231.44 878.15,231.38 881.80,231.32 885.45,231.26 889.10,231.20 892.75,231.15 896.40,231.09 900.05,231.03 903.69,230.97 907.34,230.92 910.99,230.86 914.64,230.81 918.29,230.75" fill="none" stroke="#40c8a8" stroke-opacity="0.6" stroke-width="5.2"/>
<polyline points="111.00,499.60 111.20,498.24 111.40,496.90 111.61,495.57 111.81,494.26 112.01,492.97 112.21,491.69 112.41,490.43 112.62,489.19 112.82,487.96 113.02,486.75 113.22,485.55 113.43,484.37 113.63,483.20 113.83,482.04 114.03,480.90 114.23,479.77 114.44,478.66 114.64,477.55 114.84,476.46 115.04,475.38 115.24,474.32 115.45,473.26 115.65,472.22 115.85,471.19 116.05,470.17 116.26,469.16 116.46,468.16 116.66,467.17 116.86,466.20 117.06,465.23 117.27,464.27 117.47,463.33 117.67,462.39 117.87,461.46 118.07,460.54 118.28,459.63 118.48,458.73 118.68,457.84 118.88,456.96 119.09,456.08 119.29,455.22 119.90,452.65 120.51,450.16 121.12,447.74 121.73,445.38 122.34,443.08 122.95,440.85 123.56,438.67 124.17,436.54 124.78,434.47 125.38,432.44 125.99,430.46 126.60,428.53 127.21,426.65 127.82,424.80 128.43,423.00 129.04,421.23 129.65,419.50 130.26,417.81 130.87,416.16 131.48,414.53 132.09,412.94 132.70,411.39 133.31,409.86 133.92,408.36 134.53,406.89 135.14,405.44 135.75,404.03 136.36,402.63 136.97,401.27 137.58,399.93 138.19,398.61 138.80,397.31 139.41,396.04 140.02,394.78 140.63,393.55 141.24,392.34 141.85,391.15 142.46,389.98 143.07,388.82 143.68,387.68 144.29,386.57 144.90,385.46 145.51,384.38 146.12,383.31 146.73,382.26 147.34,381.22 147.95,380.20 148.56,379.19 149.17,378.20 149.78,377.22 150.39,376.25 151.00,375.30 151.61,374.36 152.21,373.43 152.82,372.52 153.43,371.61 154.04,370.72 154.65,369.84 155.26,368.98 155.87,368.12 156.48,367.27 157.09,366.44 157.70,365.61 158.31,364.80 158.92,363.99 159.53,363.20 160.14,362.41 160.75,361.64 161.36,360.87 161.97,360.11 162.58,359.36 163.19,358.62 163.80,357.89 164.41,357.17 165.02,356.45 165.63,355.75 166.24,355.05 166.85,354.36 167.46,353.67 168.07,352.99 168.68,352.33 169.29,351.66 169.90,351.01 170.51,350.36 171.12,349.72 171.73,349.08 172.34,348.46 172.95,347.83 173.56,347.22 174.17,346.61 174.78,346.01 175.39,345.41 176.00,344.82 176.61,344.23 177.22,343.65 177.83,343.08 178.44,342.51 179.04,341.95 179.65,341.39 180.26,340.84 180.87,340.29 181.48,339.75 182.09,339.22 182.70,338.68 183.31,338.16 183.92,337.64 184.53,337.12 185.14,336.61 185.75,336.10 186.36,335.60 186.97,335.10 187.58,334.60 188.19,334.11 188.80,333.63 189.41,333.15 190.02,332.67 190.63,332.20 191.24,331.73 191.85,331.26 192.25,330.96 195.90,328.27 199.55,325.71 203.20,323.28 206.85,320.95 210.50,318.73 214.14,316.60 217.79,314.56 221.44,312.61 225.09,310.73 228.74,308.93 232.39,307.20 236.04,305.53 239.68,303.92 243.33,302.37 246.98,300.88 250.63,299.43 254.28,298.04 257.93,296.69 261.57,295.39 265.22,294.13 268.87,292.90 272.52,291.72 276.17,290.57 279.82,289.46 283.46,288.38 287.11,287.33 290.76,286.31 294.41,285.32 298.06,284.35 301.71,283.42 305.35,282.51 309.00,281.62 312.65,280.75 316.30,279.91 319.95,279.09 323.60,278.29 327.25,277.51 330.89,276.75 334.54,276.01 338.19,275.28 341.84,274.58 345.49,273.88 349.14,273.21 352.78,272.55 356.43,271.90 360.08,271.27 363.73,270.66 367.38,270.05 371.03,269.46 374.67,268.88 378.32,268.32 381.97,267.76 385.62,267.22 389.27,266.69 392.92,266.17 396.57,265.66 400.21,265.16 403.86,264.67 407.51,264.18 411.16,263.71 414.81,263.25 418.46,262.79 422.10,262.35 425.75,261.91 429.40,261.48 433.05,261.06 436.70,260.64 440.35,260.24 443.99,259.84 447.64,259.44 451.29,259.06 454.94,258.68 458.59,258.30 462.24,257.94 465.88,257.58 469.53,257.22 473.18,256.87 476.83,256.53 480.48,256.19 484.13,255.86 487.78,255.53 491.42,255.21 495.07,254.89 498.72,254.58 502.37,254.27 506.02,253.97 509.67,253.67 513.31,253.38 516.96,253.09 520.61,252.80 524.26,252.52 527.91,252.25 531.56,251.97 535.20,251.70 538.85,251.44 542.50,251.18 546.15,250.92 549.80,250.67 553.45,250.42 557.09,250.17 560.74,249.93 564.39,249.68 568.04,249.45 571.69,249.21 575.34,248.98 578.99,248.76 582.63,248.53 586.28,248.31 589.93,248.09 593.58,247.87 597.23,247.66 600.88,247.45 604.52,247.24 608.17,247.04 611.82,246.83 615.47,246.63 619.12,246.43 622.77,246.24 626.41,246.05 630.06,245.86 633.71,245.67 637.36,245.48 641.01,245.30 644.66,245.11 648.31,244.93 651.95,244.76 655.60,244.58 659.25,244.41 662.90,244.24 666.55,244.07 670.20,243.90 673.84,243.73 677.49,243.57 681.14,243.41 684.79,243.25 688.44,243.09 692.09,242.93 695.73,242.78 699.38,242.62 703.03,242.47 706.68,242.32 710.33,242.17 713.98,242.03 717.62,241.88 721.27,241.74 724.92,241.59 728.57,241.45 732.22,241.31 735.87,241.17 739.52,241.04 743.16,240.90 746.81,240.77 750.46,240.64 754.11,240.50 757.76,240.37 761.41,240.25 765.05,240.12 768.70,239.99 772.35,239.87 776.00,239.74 779.65,239.62 783.30,239.50 786.94,239.38 790.59,239.26 794.24,239.14 797.89,239.03 801.54,238.91 805.19,238.80 808.84,238.68 812.48,238.57 816.13,238.46 819.78,238.35 823.43,238.24 827.08,238.13 830.73,238.02 834.37,237.92 838.02,237.81 841.67,237.71 845.32,237.60 848.97,237.50 852.62,237.40 856.26,237.30 859.91,237.20 863.56,237.10 867.21,237.00 870.86,236.90 874.51,236.81 878.15,236.71 881.80,236.61 885.45,236.52 889.10,236.43 892.75,236.33 896.40,236.24 900.05,236.15 903.69,236.06 907.34,235.97 910.99,235.88 914.64,235.79 918.29,235.71" fill="none" stroke="#d85070" stroke-opacity="0.6" stroke-width="5.2"/>
<line x1="132.7" y1="267.2" x2="132.7" y2="339.2" stroke="#181818" stroke-width="1.35"/>
<line x1="140.8" y1="379.2" x2="140.8" y2="416.4" stroke="#181818" stroke-width="1.35"/>
<line x1="166.7" y1="302.6" x2="166.7" y2="363.6" stroke="#181818" stroke-width="1.35"/>
<line x1="181.5" y1="303.9" x2="181.5" y2="364.9" stroke="#181818" stroke-width="1.35"/>
<line x1="180.7" y1="344.7" x2="180.7" y2="390.9" stroke="#181818" stroke-width="1.35"/>
<line x1="213" y1="342.0" x2="213" y2="388.0" stroke="#181818" stroke-width="1.35"/>
<line x1="255.3" y1="252.0" x2="255.3" y2="326.6" stroke="#181818" stroke-width="1.35"/>
<line x1="396.7" y1="191.8" x2="396.7" y2="285.4" stroke="#181818" stroke-width="1.35"/>
<line x1="400.6" y1="212.9" x2="400.6" y2="300.3" stroke="#181818" stroke-width="1.35"/>
<line x1="488.5" y1="149.3" x2="488.5" y2="257.9" stroke="#181818" stroke-width="1.35"/>
<line x1="652.8" y1="195.4" x2="652.8" y2="288.6" stroke="#181818" stroke-width="1.35"/>
<line x1="723.6" y1="215.0" x2="723.6" y2="301.0" stroke="#181818" stroke-width="1.35"/>
<line x1="759.7" y1="197.2" x2="759.7" y2="291.2" stroke="#181818" stroke-width="1.35"/>
<line x1="878.3" y1="167.1" x2="878.3" y2="269.9" stroke="#181818" stroke-width="1.35"/>
<circle cx="132.7" cy="303.2" r="4.9" fill="#111"/>
<circle cx="140.8" cy="397.8" r="4.9" fill="#111"/>
<circle cx="166.7" cy="333.1" r="4.9" fill="#111"/>
<circle cx="181.5" cy="334.4" r="4.9" fill="#111"/>
<circle cx="180.7" cy="367.8" r="4.9" fill="#111"/>
<circle cx="213" cy="365" r="4.9" fill="#111"/>
<circle cx="255.3" cy="289.3" r="4.9" fill="#111"/>
<circle cx="396.7" cy="238.6" r="4.9" fill="#111"/>
<circle cx="400.6" cy="256.6" r="4.9" fill="#111"/>
<circle cx="488.5" cy="203.6" r="4.9" fill="#111"/>
<circle cx="652.8" cy="242" r="4.9" fill="#111"/>
<circle cx="723.6" cy="258" r="4.9" fill="#111"/>
<circle cx="759.7" cy="244.2" r="4.9" fill="#111"/>
<circle cx="878.3" cy="218.5" r="4.9" fill="#111"/>
<circle cx="129.3" cy="31.1" r="5" fill="#111"/>
<text x="139.5" y="40.7" font-size="26" font-family="Liberation Sans, sans-serif" stroke="#000" stroke-width="0.3">Final yield</text>
<circle cx="129.3" cy="66.4" r="4.6" fill="#39289a"/>
<text x="139.5" y="76.2" font-size="26" font-family="Liberation Sans, sans-serif" stroke="#000" stroke-width="0.3">283 K</text>
<line x1="245.1" y1="66.4" x2="276.7" y2="66.4" stroke="#2a10a0" stroke-opacity="0.6" stroke-width="5"/>
<text x="281.5" y="76.2" font-size="26" font-family="Liberation Sans, sans-serif" stroke="#000" stroke-width="0.3">VBS interpolated at 283 K</text>
<circle cx="129.3" cy="101.6" r="4.6" fill="#52bba6"/>
<text x="139.5" y="110.8" font-size="26" font-family="Liberation Sans, sans-serif" stroke="#000" stroke-width="0.3">293 K</text>
<line x1="245.1" y1="101.6" x2="276.7" y2="101.6" stroke="#40c8a8" stroke-opacity="0.6" stroke-width="5"/>
<text x="281.5" y="110.8" font-size="26" font-family="Liberation Sans, sans-serif" stroke="#000" stroke-width="0.3">VBS at 293 K</text>
<circle cx="129.3" cy="136.9" r="4.6" fill="#d4687c"/>
<text x="139.5" y="145.4" font-size="26" font-family="Liberation Sans, sans-serif" stroke="#000" stroke-width="0.3">304.5 K</text>
<line x1="245.1" y1="136.9" x2="276.7" y2="136.9" stroke="#d85070" stroke-opacity="0.6" stroke-width="5"/>
<text x="281.5" y="145.4" font-size="26" font-family="Liberation Sans, sans-serif" stroke="#000" stroke-width="0.3">VBS interpolated at 304.5 K</text>
</g>
</svg></body></html>
